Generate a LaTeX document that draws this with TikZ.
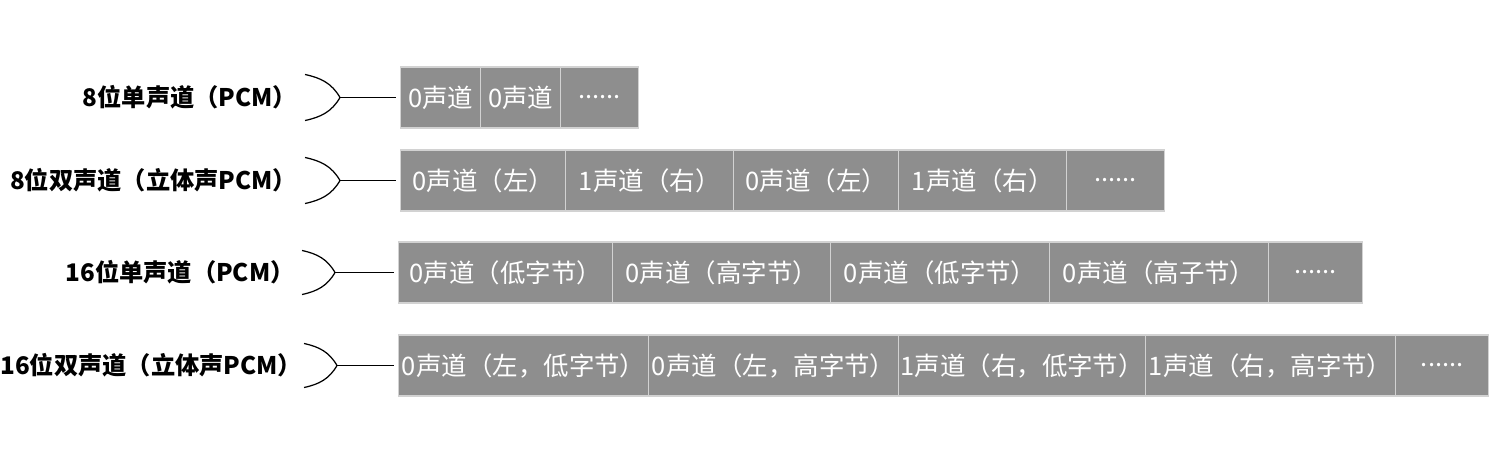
\documentclass[tikz,border=0pt]{standalone}
\usepackage{fontspec}
\setmainfont{Noto Sans CJK SC}
\usepackage{tikz}
\usetikzlibrary{positioning,calc}

\definecolor{cellfill}{HTML}{8E8E8E}
\definecolor{cellline}{HTML}{D2D2D2}

\begin{document}
\begin{tikzpicture}[x=1cm,y=1cm,
  font=\fontsize{14.5}{17}\selectfont,
  cell/.style={draw=cellline, line width=0.8pt, fill=cellfill, text=white, minimum height=12.2mm, inner sep=0pt, align=center},
  fmt/.style={font=\fontsize{13.8}{16}\selectfont\bfseries, anchor=east, inner sep=0pt},
  brace/.style={line width=0.7pt},
  link/.style={line width=0.7pt, shorten >=2pt},
]
\useasboundingbox (0,0) rectangle (30,-9.32);

% 8-bit mono
\node[fmt] (l1) at (5.95,-1.95) {8位单声道（PCM）};
\node[cell, minimum width=16mm, anchor=west] (c11) at (8.0,-1.95) {0声道};
\node[cell, minimum width=16mm, right=-0.8pt of c11] (c12) {0声道};
\node[cell, minimum width=15.6mm, right=-0.8pt of c12] (c13) {......};
\coordinate (t1) at (6.8,-1.95);

% 8-bit stereo
\node[fmt] (l2) at (5.95,-3.61) {8位双声道（立体声PCM）};
\node[cell, minimum width=33mm, anchor=west] (c21) at (8.0,-3.61) {0声道（左）};
\node[cell, minimum width=33.6mm, right=-0.8pt of c21] (c22) {1声道（右）};
\node[cell, minimum width=33mm, right=-0.8pt of c22] (c23) {0声道（左）};
\node[cell, minimum width=33.6mm, right=-0.8pt of c23] (c24) {1声道（右）};
\node[cell, minimum width=19.6mm, right=-0.8pt of c24] (c25) {......};
\coordinate (t2) at (6.8,-3.61);

% 16-bit mono
\node[fmt] (l3) at (5.9,-5.45) {16位单声道（PCM）};
\node[cell, minimum width=42.8mm, anchor=west] (c31) at (7.96,-5.45) {0声道（低字节）};
\node[cell, minimum width=43.6mm, right=-0.8pt of c31] (c32) {0声道（高字节）};
\node[cell, minimum width=43.8mm, right=-0.8pt of c32] (c33) {0声道（低字节）};
\node[cell, minimum width=43.8mm, right=-0.8pt of c33] (c34) {0声道（高子节）};
\node[cell, minimum width=18.8mm, right=-0.8pt of c34] (c35) {......};
\coordinate (t3) at (6.7,-5.45);

% 16-bit stereo
\node[fmt] (l4) at (6.05,-7.3) {16位双声道（立体声PCM）};
\node[cell, minimum width=50mm, anchor=west] (c41) at (7.96,-7.31) {0声道（左，低字节）};
\node[cell, minimum width=50mm, right=-0.8pt of c41] (c42) {0声道（左，高字节）};
\node[cell, minimum width=49.4mm, right=-0.8pt of c42] (c43) {1声道（右，低字节）};
\node[cell, minimum width=50mm, right=-0.8pt of c43] (c44) {1声道（右，高字节）};
\node[cell, minimum width=18.6mm, right=-0.8pt of c44] (c45) {......};
\coordinate (t4) at (6.74,-7.31);

% braces and links
\draw[brace] ($(t1)+(-0.7,0.46)$) to[out=-12,in=120] (t1) to[out=-120,in=12] ($(t1)+(-0.7,-0.46)$);
\draw[brace] ($(t2)+(-0.7,0.46)$) to[out=-12,in=120] (t2) to[out=-120,in=12] ($(t2)+(-0.7,-0.46)$);
\draw[brace] ($(t3)+(-0.66,0.44)$) to[out=-12,in=120] (t3) to[out=-120,in=12] ($(t3)+(-0.66,-0.44)$);
\draw[brace] ($(t4)+(-0.66,0.44)$) to[out=-12,in=120] (t4) to[out=-120,in=12] ($(t4)+(-0.66,-0.44)$);
\draw[link] (t1) -- (c11.west);
\draw[link] (t2) -- (c21.west);
\draw[link] (t3) -- (c31.west);
\draw[link] (t4) -- (c41.west);
\end{tikzpicture}
\end{document}
